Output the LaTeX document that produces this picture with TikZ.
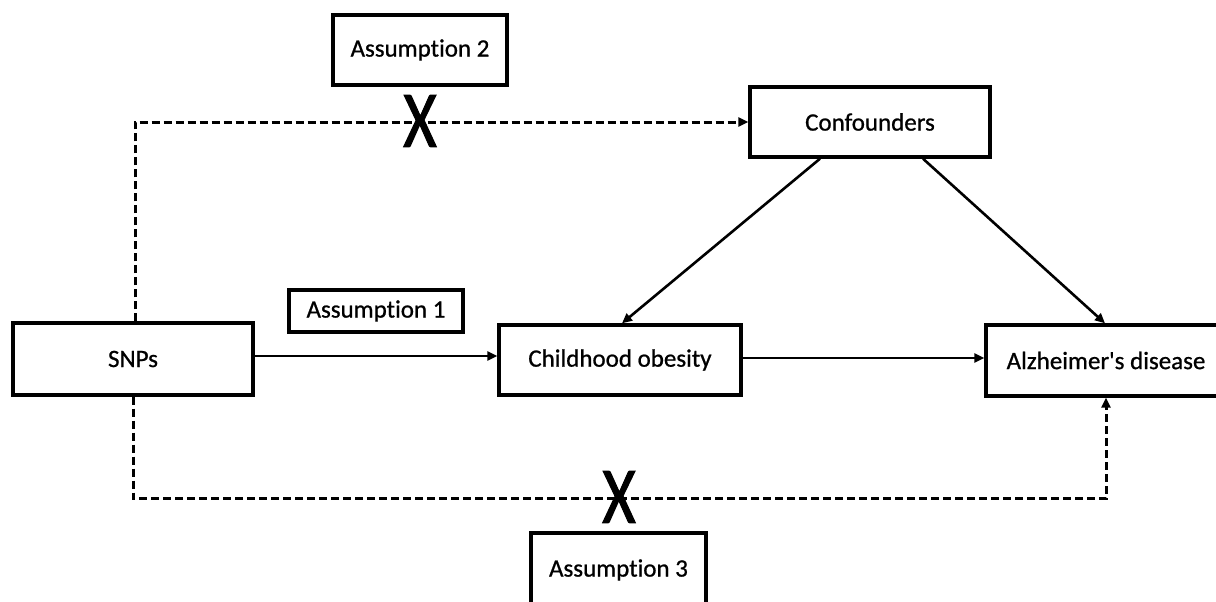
\documentclass[tikz,border=0pt]{standalone}
\usepackage{fontspec}
\setmainfont{Carlito}[Ligatures=NoCommon,FakeBold=0.8]
\newfontfamily\xfont{Carlito}[Ligatures=NoCommon,FakeBold=1.6]
\usetikzlibrary{arrows.meta,calc}
\begin{document}
\begin{tikzpicture}[x=1pt,y=-1pt,
  box/.style={draw=black,line width=3.4pt,fill=white,font=\fontsize{25}{30}\selectfont,inner sep=0pt},
  arr/.style={line width=2.6pt,-{Triangle[length=10pt,width=9pt]}},
  dsh/.style={line width=3pt,dash pattern=on 8pt off 4pt,-{Triangle[length=10pt,width=9pt]}},
  cross/.style={font=\xfont\fontsize{80}{80}\selectfont,xscale=0.8,inner sep=0pt}]
\useasboundingbox (0,0) rectangle (1216,602);
\clip (0,0) rectangle (1216,602);
\fill[white] (0,0) rectangle (1216,602);

\node[box,minimum width=174pt,minimum height=70pt] (a2) at (420,50) {Assumption 2};
\node[box,minimum width=240pt,minimum height=70pt] (conf) at (870,122) {Confounders};
\node[box,minimum width=174pt,minimum height=42pt] (a1) at (376,311) {Assumption 1};
\node[box,minimum width=240pt,minimum height=72pt] (snp) at (133,359) {SNPs};
\node[box,minimum width=242pt,minimum height=70pt] (co) at (620,360) {Childhood obesity};
\node[box,minimum width=240pt,minimum height=71pt] (ad) at (1106,360.5) {Alzheimer\textquotesingle s disease};
\node[box,minimum width=175pt,minimum height=74pt] (a3) at (618.5,570) {Assumption 3};

% solid arrows
\draw[arr] ([yshift=3pt]snp.east) -- ([yshift=3pt]snp.east -| co.west);
\draw[arr] ([yshift=2pt]co.east) -- ([yshift=2pt]co.east -| ad.west);
\draw[arr] ([xshift=-50pt]conf.south) -- ([xshift=2pt]co.north);
\draw[arr] ([xshift=53pt]conf.south) -- ([xshift=-1pt]ad.north);

% dashed paths
\draw[dsh] ([xshift=2pt]snp.north) |- (conf.west);
\coordinate (bl) at ($(snp.south)+(0,102)$);
\draw[dsh] (snp.south) -- (bl) -| (ad.south);

% crosses
\node[cross] (x1) at (420,121) {X};
\node[cross] (x3) at (619,497) {X};
\end{tikzpicture}
\end{document}
